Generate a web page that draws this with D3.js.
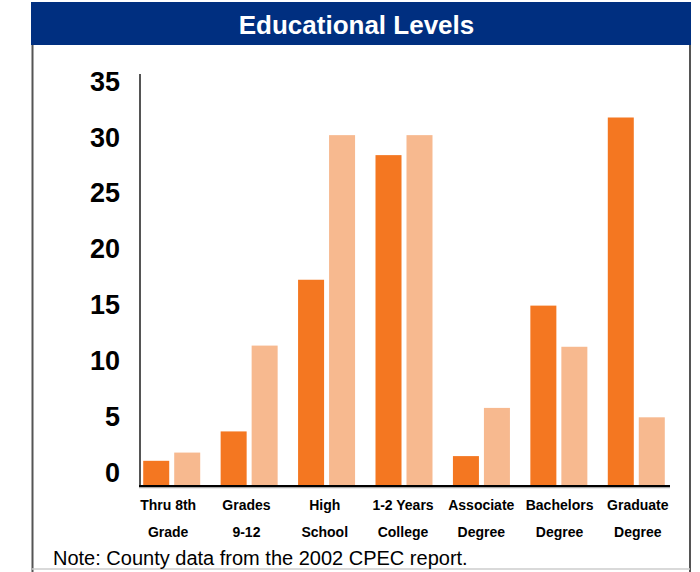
<!DOCTYPE html>
<html>
<head>
<meta charset="utf-8">
<script src="https://cdn.jsdelivr.net/npm/d3@7/dist/d3.min.js"></script>
<style>
  html, body { margin: 0; padding: 0; background: #fff; }
  svg { display: block; font-family: "Liberation Sans", Arial, Helvetica, sans-serif; }
</style>
</head>
<body>
<svg id="chart" width="700" height="572"></svg>
<script>
// ---- data ----
const categories = [
  ["Thru 8th", "Grade"],
  ["Grades", "9-12"],
  ["High", "School"],
  ["1-2 Years", "College"],
  ["Associate", "Degree"],
  ["Bachelors", "Degree"],
  ["Graduate", "Degree"]
];
const seriesNames = ["County", "State"];
const countyValues = [2.1, 4.6, 17.5, 28.1, 2.5, 15.3, 31.3];
const stateValues  = [2.8, 11.9, 29.8, 29.8, 6.6, 11.8, 5.8];
const yTicks = [0, 5, 10, 15, 20, 25, 30, 35];
const titleText = "Educational Levels";
const noteText = "Note: County data from the 2002 CPEC report.";

// ---- chart ----
const svg = d3.select("#chart");
const colors = { County: "#F47721", State: "#F7B98F" };

// frame
svg.append("rect").attr("x", 31).attr("y", 2).attr("width", 660).attr("height", 43).attr("fill", "#002F80");
svg.append("text").attr("x", 356.5).attr("y", 34).attr("text-anchor", "middle")
  .attr("fill", "#fff").attr("font-weight", "bold").attr("font-size", 26).text(titleText);
svg.append("line").attr("x1", 32.5).attr("x2", 32.5).attr("y1", 45).attr("y2", 572).attr("stroke", "#555").attr("stroke-width", 2);
svg.append("line").attr("x1", 690).attr("x2", 690).attr("y1", 45).attr("y2", 572).attr("stroke", "#555").attr("stroke-width", 2);
svg.append("line").attr("x1", 32).attr("x2", 690).attr("y1", 569).attr("y2", 569).attr("stroke", "#ccc").attr("stroke-width", 1.5);

const idx = categories.map((c, i) => i);
const x0 = d3.scaleBand().domain(idx).range([133, 675]);
const xLab = d3.scaleBand().domain(idx).range([129, 677]);
const x1 = d3.scaleBand().domain(seriesNames).range([-28.5, 28.5]).paddingInner(0.161);
const y = d3.scaleLinear().domain([0, 35]).range([485.5, 74]);
const yLabel = d3.scaleLinear().domain([0, 35]).range([473, 81.5]);

// bars
const rows = idx.map(i => ({ i, County: countyValues[i], State: stateValues[i] }));
const groups = svg.append("g").selectAll("g").data(rows).join("g")
  .attr("transform", d => `translate(${x0(d.i) + x0.bandwidth() / 2},0)`);
groups.selectAll("rect").data(d => seriesNames.map(s => ({ s, v: d[s] }))).join("rect")
  .attr("x", d => x1(d.s)).attr("width", x1.bandwidth())
  .attr("y", d => y(d.v)).attr("height", d => y(0) - y(d.v))
  .attr("fill", d => colors[d.s]);

// y axis line
svg.append("line").attr("x1", 140).attr("x2", 140).attr("y1", y(35)).attr("y2", y(0))
  .attr("stroke", "#555").attr("stroke-width", 2);
// x axis line
svg.append("line").attr("x1", 139).attr("x2", 670).attr("y1", y(0) + 2).attr("y2", y(0) + 2)
  .attr("stroke", "#aaa").attr("stroke-width", 1.5);
svg.append("line").attr("x1", 139).attr("x2", 670).attr("y1", y(0) + 0.5).attr("y2", y(0) + 0.5)
  .attr("stroke", "#000").attr("stroke-width", 2);

// y tick labels
const yAxis = svg.append("g").attr("transform", "translate(120,0)")
  .call(d3.axisLeft(yLabel).tickValues(yTicks).tickSize(0).tickPadding(0));
yAxis.select(".domain").remove();
yAxis.selectAll("text").attr("font-size", 27).attr("font-weight", "bold")
  .attr("font-family", "Liberation Sans, Arial, sans-serif").attr("fill", "#000");

// x labels
const xl = svg.append("g").selectAll("text").data(idx).join("text")
  .attr("text-anchor", "middle").attr("font-size", 14).attr("font-weight", "bold").attr("fill", "#000")
  .attr("x", i => xLab(i) + xLab.bandwidth() / 2);
xl.append("tspan").attr("x", i => xLab(i) + xLab.bandwidth() / 2).attr("y", 510).text(i => categories[i][0]);
xl.append("tspan").attr("x", i => xLab(i) + xLab.bandwidth() / 2).attr("y", 537).text(i => categories[i][1]);

// note
svg.append("text").attr("x", 53).attr("y", 565).attr("font-size", 20).attr("fill", "#000").text(noteText);
</script>
</body>
</html>
